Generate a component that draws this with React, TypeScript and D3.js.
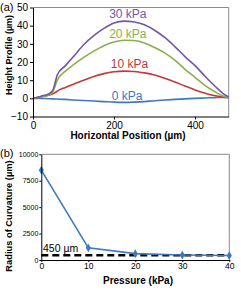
import React, { useEffect, useRef } from 'react';
import * as d3 from 'd3';

// panel (a): height profiles along the channel
const positions = [0, 20, 40, 50, 55, 60, 80, 100, 125, 150, 175, 200, 225, 250, 275, 300, 325, 350, 375, 400, 425, 450, 470, 483];
const kpa30 = [0, 1.2, 2.5, 5, 9, 13, 18, 23, 29.5, 34.5, 38.5, 41.5, 42.5, 42, 40.5, 37.5, 33.5, 28.5, 23, 18, 12, 6.5, 2.5, 0.8];
const kpa20 = [0, 0.8, 2, 4, 7, 10, 15, 18.5, 22.5, 26, 29, 31, 32, 31.8, 30.5, 28, 25, 21, 16, 11.5, 7, 3.5, 1.2, 0.5];
const kpa10 = [0, 0.8, 1.8, 2.6, 3.2, 4, 6, 7.8, 9.9, 12, 13.6, 14.6, 15, 14.8, 14, 12.8, 11, 9, 6.8, 4.6, 2.8, 1.4, 0.6, 0.3];
const kpa0 = [0, -0.1, -0.2, -0.3, -0.35, -0.4, -0.6, -0.9, -1.2, -1.5, -1.8, -2.1, -2.2, -2.1, -1.8, -1.3, -0.9, -0.6, -0.3, 0, 0.2, 0.4, 0.5, 0.5];
const seriesNames = ['30 kPa', '20 kPa', '10 kPa', '0 kPa'];
const heightTicks = [-10, 0, 10, 20, 30, 40, 50];
const positionTicks = [0, 200, 400];

// panel (b): radius of curvature vs pressure
const pressures = [0, 10, 20, 30, 40];
const radii = [8500, 1150, 600, 470, 420];
const targetRadius = 450;
const radiusTicks = [0, 2500, 5000, 7500, 10000];
const pressureTicks = [0, 10, 20, 30, 40];

const colors = ['#7356a6', '#87b04c', '#c0393c', '#3d78c0'];
const FONT = 'Liberation Sans, Arial, sans-serif';

export default function App() {
    const ref = useRef<SVGSVGElement>(null);

    useEffect(() => {
        const svg = d3.select(ref.current);
        svg.selectAll('*').remove();

        //---------- panel (a)
        const xA = d3.scaleLinear().domain([0, 483]).range([33, 228.7]);
        const yA = d3.scaleLinear().domain([-10, 50]).range([116.5, 7.5]);

        // grey frame top/right
        svg.append('path')
            .attr('d', `M${xA(0)},${yA(50)}H${xA(483)}V${yA(-10)}`)
            .attr('fill', 'none').attr('stroke', '#8a8a8a').attr('stroke-width', 1);

        const series = [kpa30, kpa20, kpa10, kpa0];
        const line = d3.line<number>()
            .x((d, i) => xA(positions[i]))
            .y(d => yA(d))
            .curve(d3.curveMonotoneX);
        // draw 0 kPa first so others sit on top
        [3, 2, 1, 0].forEach(k => {
            svg.append('path')
                .attr('d', line(series[k]))
                .attr('fill', 'none')
                .attr('stroke', colors[k])
                .attr('stroke-width', 1.6);
        });

        const axA = svg.append('g').attr('transform', `translate(${xA(0)},0)`)
            .call(d3.axisLeft(yA).tickValues(heightTicks).tickSize(3).tickPadding(2).tickSizeOuter(0));
        const axB = svg.append('g').attr('transform', `translate(0,${yA(-10)})`)
            .call(d3.axisBottom(xA).tickValues(positionTicks).tickSize(3).tickPadding(2).tickSizeOuter(0));
        [axA, axB].forEach(g => {
            g.attr('font-family', FONT).attr('font-size', 10);
            g.selectAll('path,line').attr('stroke', '#000');
            g.selectAll('text').attr('fill', '#000');
        });

        // curve labels
        const labelPos = [[234, 44], [234, 33], [238, 16.5], [232, -1]];
        seriesNames.forEach((name, k) => {
            svg.append('text')
                .attr('x', xA(labelPos[k][0])).attr('y', yA(labelPos[k][1]))
                .attr('text-anchor', 'middle')
                .attr('font-family', FONT).attr('font-size', 12)
                .attr('fill', colors[k])
                .text(name);
        });

        svg.append('text').attr('x', 128).attr('y', 138.5)
            .attr('text-anchor', 'middle').attr('font-family', FONT)
            .attr('font-size', 10).attr('font-weight', 'bold')
            .text('Horizontal Position (µm)');
        svg.append('text').attr('transform', 'translate(12,55) rotate(-90)')
            .attr('text-anchor', 'middle').attr('font-family', FONT)
            .attr('font-size', 9).attr('font-weight', 'bold')
            .text('Height Profile (µm)');
        svg.append('text').attr('x', 0).attr('y', 11)
            .attr('font-family', FONT).attr('font-size', 11).text('(a)');

        //---------- panel (b)
        const xB = d3.scaleLinear().domain([0, 40]).range([41.3, 229.3]);
        const yB = d3.scaleLinear().domain([0, 10000]).range([260, 154.3]);

        svg.append('path')
            .attr('d', `M${xB(0)},${yB(10000)}H${xB(40)}V${yB(0)}`)
            .attr('fill', 'none').attr('stroke', '#8a8a8a').attr('stroke-width', 1);

        svg.append('line')
            .attr('x1', xB(0)).attr('x2', xB(40))
            .attr('y1', yB(targetRadius)).attr('y2', yB(targetRadius))
            .attr('stroke', '#000').attr('stroke-width', 2.4)
            .attr('stroke-dasharray', '7,4');

        const lineB = d3.line<number>()
            .x((d, i) => xB(pressures[i]))
            .y(d => yB(d));
        svg.append('path').attr('d', lineB(radii))
            .attr('fill', 'none').attr('stroke', colors[3]).attr('stroke-width', 1.6);
        const diamond = d3.symbol().type(d3.symbolDiamond).size(22);
        radii.forEach((r, i) => {
            svg.append('path').attr('d', diamond())
                .attr('transform', `translate(${xB(pressures[i])},${yB(r)})`)
                .attr('fill', colors[3]);
        });

        const ayB = svg.append('g').attr('transform', `translate(${xB(0)},0)`)
            .call(d3.axisLeft(yB).tickValues(radiusTicks).tickFormat(d3.format('d'))
                .tickSize(2).tickPadding(1).tickSizeOuter(0));
        ayB.attr('font-family', FONT).attr('font-size', 7);
        const axB2 = svg.append('g').attr('transform', `translate(0,${yB(0)})`)
            .call(d3.axisBottom(xB).tickValues(pressureTicks).tickSize(2).tickPadding(1).tickSizeOuter(0));
        axB2.attr('font-family', FONT).attr('font-size', 8.5);
        [ayB, axB2].forEach(g => {
            g.selectAll('path,line').attr('stroke', '#000');
            g.selectAll('text').attr('fill', '#000');
        });

        svg.append('text').attr('x', 43).attr('y', 251.5)
            .attr('font-family', FONT).attr('font-size', 10.5)
            .text(`${targetRadius} µm`);

        svg.append('text').attr('x', 138).attr('y', 283.5)
            .attr('text-anchor', 'middle').attr('font-family', FONT)
            .attr('font-size', 10).attr('font-weight', 'bold')
            .text('Pressure (kPa)');
        svg.append('text').attr('transform', 'translate(11.5,216) rotate(-90)')
            .attr('text-anchor', 'middle').attr('font-family', FONT)
            .attr('font-size', 9.3).attr('font-weight', 'bold')
            .text('Radius of Curvature (µm)');
        svg.append('text').attr('x', 0).attr('y', 157)
            .attr('font-family', FONT).attr('font-size', 11).text('(b)');
    }, []);

    return (
        <svg ref={ref} width={241} height={291}
            style={{ position: 'absolute', left: 0, top: 0, background: '#fff' }} />
    );
}
